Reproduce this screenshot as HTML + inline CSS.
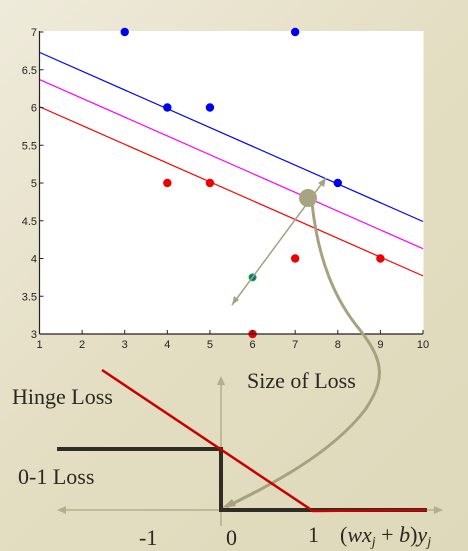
<!DOCTYPE html>
<html><head><meta charset="utf-8"><style>
body{margin:0;width:468px;height:551px;overflow:hidden;background:linear-gradient(135deg,#efebdb 0%,#e3ddc2 50%,#dfd9bb 100%);font-family:"Liberation Sans",sans-serif}
svg{position:absolute;left:0;top:0}
</style></head><body>
<svg id="chart" width="468" height="551">
<rect x="39.5" y="31" width="384" height="303" fill="#fff"/>
<g id="lines"></g><g id="pts"></g><g id="axes"></g>
<g stroke="#a6a27f" fill="none">
<line x1="232" y1="305" x2="326" y2="178" stroke-width="1.5"/>
<polygon points="326,178 318,183 324,187" fill="#a6a27f" stroke="none"/>
<polygon points="232,305 234,296 239,300" fill="#a6a27f" stroke="none"/>
<path d="M312,203 C318,260 335,300 360,330 C385,362 385,380 365,410 C330,455 270,485 226,507" stroke-width="3"/>
<polygon points="222,508 232,499 236,506" fill="#a6a27f" stroke="none"/>
<circle cx="308" cy="198" r="9" fill="#a8a47f" stroke="none"/>
</g>
<g>
<line x1="62" y1="510" x2="438" y2="510" stroke="#b3ae8e" stroke-width="1.5"/>
<polygon points="57,510 66,506 66,514" fill="#b3ae8e"/>
<polygon points="443,510 434,506 434,514" fill="#b3ae8e"/>
<line x1="221" y1="383" x2="221" y2="526" stroke="#b3ae8e" stroke-width="1.5"/>
<polygon points="221,376 217,385 225,385" fill="#b3ae8e"/>
<polyline points="57,449 221,449 221,510 427,510" fill="none" stroke="#2f2c26" stroke-width="4"/>
<polyline points="102,370 313,511 427,510" fill="none" stroke="#c80000" stroke-width="2.5"/>
<g font-family="Liberation Serif,serif" fill="#2a2820" font-size="22">
<text x="12" y="404">Hinge Loss</text>
<text x="247" y="388">Size of Loss</text>
<text x="18" y="484">0-1 Loss</text>
<text x="139" y="545">-1</text>
<text x="226" y="545">0</text>
<text x="308" y="542">1</text>
<text x="340" y="542" font-style="italic"><tspan font-style="normal">(</tspan>wx<tspan font-size="14" dy="4">j</tspan><tspan dy="-4" font-style="normal"> + </tspan>b<tspan font-style="normal">)</tspan>y<tspan font-size="14" dy="4">j</tspan></text>
</g></g>
</svg>
<script>
const xTicks=[1,2,3,4,5,6,7,8,9,10];
const yTicks=[3,3.5,4,4.5,5,5.5,6,6.5,7];
const blueX=[3,7,4,5,8];
const blueY=[7,7,6,6,5];
const redX=[4,5,7,9,6];
const redY=[5,5,4,4,3];
const lineNames=['upper-margin','decision-boundary','lower-margin'];
const lineColors=['#0000ff','#ff00ff','#ff0000'];
const lineStartY=[6.73,6.37,6.01];
const lineEndY=[4.49,4.13,3.77];
const NS='http://www.w3.org/2000/svg';
const sx=v=>39.5+(v-1)*(383.5/9);
const sy=v=>334-(v-3)*(302/4);
function mk(t,a,p){const e=document.createElementNS(NS,t);for(const k in a)e.setAttribute(k,a[k]);p.appendChild(e);return e;}
const L=document.getElementById('lines'),P=document.getElementById('pts'),A=document.getElementById('axes');
lineStartY.forEach((v,i)=>{const l=mk('line',{x1:sx(1),y1:sy(v),x2:sx(10),y2:sy(lineEndY[i]),stroke:lineColors[i],'stroke-width':1.2},L);

});
blueX.forEach((x,i)=>{const c=mk('circle',{cx:sx(x),cy:sy(blueY[i]),r:4.2,fill:'#0000f0'},P);

});
redX.forEach((x,i)=>{const c=mk('circle',{cx:sx(x),cy:sy(redY[i]),r:4.2,fill:'#f00000'},P);

});
const g=mk('circle',{cx:sx(6),cy:sy(3.75),r:3.5,fill:'#1060c0',stroke:'#00c000','stroke-width':1},P);


mk('line',{x1:39.5,y1:31,x2:39.5,y2:334,stroke:'#222','stroke-width':1.2},A);
mk('line',{x1:39.5,y1:334,x2:423,y2:334,stroke:'#222','stroke-width':1.2},A);
xTicks.forEach(v=>{mk('line',{x1:sx(v),y1:334,x2:sx(v),y2:330,stroke:'#222'},A);
const t=mk('text',{x:sx(v),y:348,'font-size':11,'text-anchor':'middle',fill:'#222'},A);t.textContent=v;

});
yTicks.forEach(v=>{mk('line',{x1:39.5,y1:sy(v),x2:43.5,y2:sy(v),stroke:'#222'},A);
const t=mk('text',{x:37,y:sy(v)+4,'font-size':11,'text-anchor':'end',fill:'#222'},A);t.textContent=v;

});
</script>
</body></html>
